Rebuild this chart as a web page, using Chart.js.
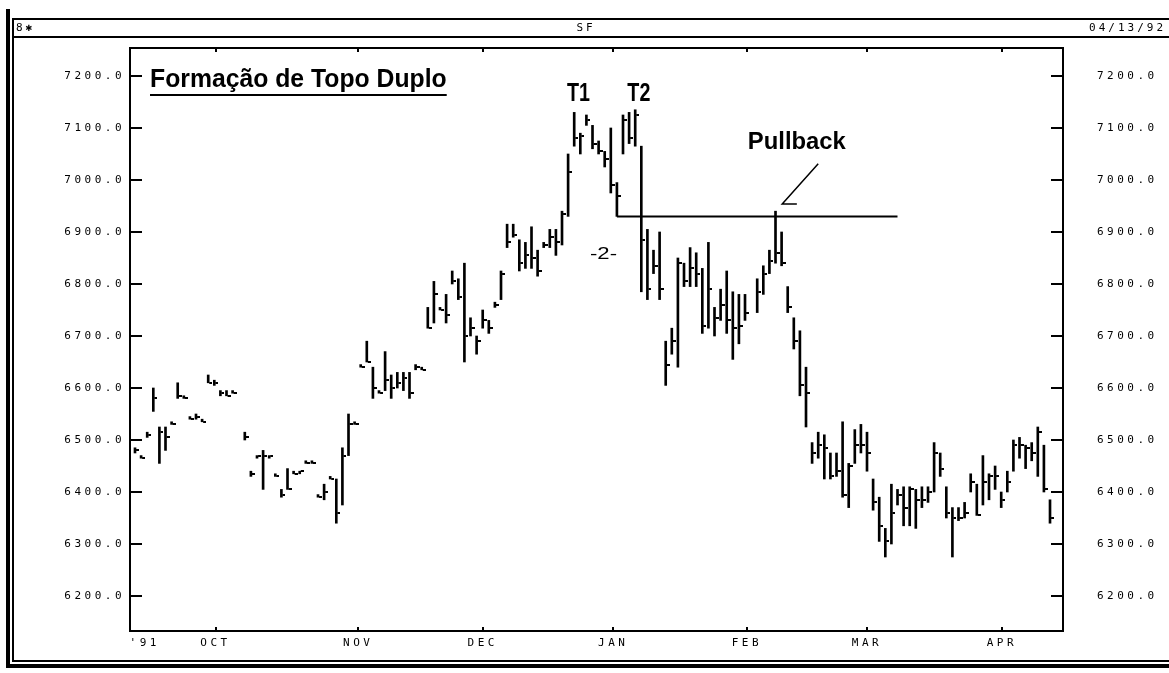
<!DOCTYPE html>
<html>
<head>
<meta charset="utf-8">
<script src="https://cdn.jsdelivr.net/npm/chart.js@4.4.0/dist/chart.umd.min.js"></script>
<style>
  html, body { margin: 0; padding: 0; background: #fff; }
  canvas { display: block; }
</style>
</head>
<body>
<canvas id="chartSF" width="1169" height="673"></canvas>
<script>
// trading-day slot of every bar (slots 17 and 101 have no bar)
const days = [
  0, 1, 2, 3, 4, 5, 6, 7, 8, 9, 10, 11, 12, 13, 14, 15, 16,
  18, 19, 20, 21, 22, 23, 24, 25, 26, 27, 28, 29, 30, 31, 32, 33, 34, 35, 36, 37, 38, 39, 40,
  41, 42, 43, 44, 45, 46, 47, 48, 49, 50, 51, 52, 53, 54, 55, 56, 57, 58, 59, 60,
  61, 62, 63, 64, 65, 66, 67, 68, 69, 70, 71, 72, 73, 74, 75, 76, 77, 78, 79, 80,
  81, 82, 83, 84, 85, 86, 87, 88, 89, 90, 91, 92, 93, 94, 95, 96, 97, 98, 99, 100,
  102, 103, 104, 105, 106, 107, 108, 109, 110, 111, 112, 113, 114, 115, 116, 117, 118, 119, 120,
  121, 122, 123, 124, 125, 126, 127, 128, 129, 130, 131, 132, 133, 134, 135, 136, 137, 138, 139, 140,
  141, 142, 143, 144, 145, 146, 147, 148, 149, 150
];
const highs = [
  6485, 6470, 6515, 6600, 6525, 6525, 6535, 6610, 6585, 6545, 6550, 6540, 6625, 6615, 6595, 6595, 6595,
  6515, 6440, 6470, 6480, 6470, 6435, 6405, 6445, 6440, 6440, 6460, 6460, 6395, 6415, 6430, 6425, 6485, 6550, 6535, 6645, 6690, 6640, 6595,
  6670, 6625, 6630, 6630, 6630, 6645, 6640, 6755, 6805, 6755, 6780, 6825, 6810, 6840, 6735, 6700, 6750, 6730, 6765, 6825,
  6915, 6915, 6885, 6880, 6910, 6865, 6880, 6905, 6905, 6940, 7050, 7130, 7090, 7125, 7105, 7075, 7055, 7100, 6995, 7125,
  7130, 7135, 7065, 6905, 6865, 6900, 6690, 6715, 6850, 6840, 6870, 6860, 6830, 6880, 6755, 6790, 6825, 6785, 6780, 6780,
  6810, 6835, 6865, 6940, 6900, 6795, 6735, 6710, 6640, 6495, 6515, 6510, 6475, 6475, 6535, 6455, 6520, 6530, 6515,
  6425, 6390, 6330, 6415, 6405, 6410, 6410, 6405, 6410, 6410, 6495, 6475, 6410, 6370, 6370, 6380, 6435, 6415, 6470, 6435,
  6450, 6400, 6440, 6500, 6505, 6490, 6495, 6525, 6490, 6385
];
const lows = [
  6475, 6465, 6505, 6555, 6455, 6480, 6530, 6580, 6580, 6540, 6540, 6535, 6610, 6605, 6585, 6585, 6590,
  6500, 6430, 6465, 6405, 6465, 6430, 6390, 6405, 6435, 6435, 6455, 6455, 6390, 6385, 6425, 6340, 6375, 6470, 6530, 6640, 6650, 6580, 6590,
  6595, 6580, 6600, 6595, 6580, 6635, 6635, 6715, 6725, 6750, 6725, 6800, 6770, 6650, 6700, 6665, 6715, 6705, 6755, 6770,
  6870, 6890, 6825, 6830, 6830, 6815, 6870, 6870, 6855, 6875, 6930, 7065, 7050, 7105, 7060, 7050, 7025, 6975, 6930, 7050,
  7070, 7065, 6785, 6770, 6820, 6770, 6605, 6665, 6640, 6795, 6795, 6795, 6705, 6715, 6700, 6730, 6705, 6655, 6685, 6730,
  6745, 6780, 6820, 6840, 6835, 6745, 6675, 6585, 6525, 6455, 6465, 6425, 6425, 6430, 6390, 6370, 6455, 6475, 6440,
  6365, 6305, 6275, 6300, 6375, 6335, 6335, 6330, 6370, 6380, 6400, 6430, 6350, 6275, 6345, 6350, 6400, 6355, 6375, 6385,
  6405, 6370, 6400, 6440, 6465, 6445, 6460, 6430, 6400, 6340
];
const closes = [
  6480, 6465, 6510, 6580, 6515, 6505, 6530, 6585, 6580, 6540, 6545, 6535, 6610, 6610, 6590, 6585, 6590,
  6505, 6435, 6470, 6470, 6470, 6430, 6395, 6405, 6435, 6440, 6455, 6455, 6390, 6400, 6425, 6360, 6470, 6530, 6530, 6640, 6650, 6600, 6590,
  6615, 6600, 6610, 6620, 6590, 6640, 6635, 6715, 6780, 6750, 6740, 6805, 6775, 6700, 6715, 6690, 6730, 6715, 6760, 6820,
  6880, 6895, 6840, 6855, 6850, 6825, 6875, 6890, 6880, 6935, 7015, 7080, 7085, 7115, 7070, 7055, 7040, 6990, 6970, 7115,
  7080, 7125, 6885, 6790, 6835, 6790, 6645, 6690, 6840, 6805, 6830, 6820, 6720, 6790, 6735, 6760, 6730, 6715, 6720, 6745,
  6785, 6820, 6845, 6860, 6840, 6755, 6690, 6605, 6590, 6475, 6490, 6485, 6430, 6440, 6395, 6450, 6490, 6490, 6475,
  6380, 6335, 6305, 6360, 6395, 6370, 6405, 6385, 6385, 6400, 6475, 6445, 6360, 6350, 6350, 6360, 6420, 6355, 6420, 6430,
  6430, 6385, 6420, 6490, 6490, 6485, 6475, 6515, 6405, 6350
];

const priceTicks = [6200, 6300, 6400, 6500, 6600, 6700, 6800, 6900, 7000, 7100, 7200];
const monthLabels = ["'91", "OCT", "NOV", "DEC", "JAN", "FEB", "MAR", "APR"];
const monthDays = [1.6, 13.2, 36.6, 57.0, 78.4, 100.3, 120.0, 142.1];

// neckline of the double top and the pullback pointer
const neckDays = [79, 125];
const neckPrice = [6930, 6930];
const pointerDays = [108.5, 106.1, 112.0];
const pointerPrice = [6954, 6954, 7031];

const closeMark = document.createElement("canvas");
closeMark.width = 8;
closeMark.height = 2;
closeMark.getContext("2d").fillRect(5, 0, 3, 2);

const tickFont = { family: "DejaVu Sans Mono", size: 11 };

function drawFitted(ctx, text, cx, baseline, font, width) {
  ctx.save();
  ctx.letterSpacing = "0px";
  ctx.font = font;
  const w = ctx.measureText(text).width;
  ctx.translate(cx, baseline);
  ctx.scale(width / w, 1);
  ctx.textAlign = "center";
  ctx.textBaseline = "alphabetic";
  ctx.fillStyle = "#000";
  ctx.fillText(text, 0, 0);
  ctx.restore();
}

const moldura = {
  id: "moldura",
  beforeDraw(chart) {
    chart.ctx.letterSpacing = "3.5px";
  },
  afterDraw(chart) {
    const ctx = chart.ctx;
    const a = chart.chartArea;
    const xs = chart.scales.x;
    const ys = chart.scales.y;
    ctx.save();
    ctx.fillStyle = "#000";

    // page frame and header strip
    ctx.fillRect(6, 9, 4, 659);
    ctx.fillRect(12, 18, 2, 644);
    ctx.fillRect(12, 18, 1157, 2);
    ctx.fillRect(12, 36, 1157, 2);
    ctx.fillRect(12, 660, 1157, 2);
    ctx.fillRect(6, 664, 1163, 4);

    ctx.font = "11px 'DejaVu Sans Mono'";
    ctx.letterSpacing = "3px";
    ctx.textBaseline = "middle";
    ctx.textAlign = "left";
    ctx.fillText("8✱", 16, 28);
    ctx.textAlign = "center";
    ctx.fillText("SF", 586, 28);
    ctx.textAlign = "right";
    ctx.fillText("04/13/92", 1166, 28);

    // plot box
    ctx.lineWidth = 2;
    ctx.strokeStyle = "#000";
    ctx.strokeRect(a.left, a.top, a.right - a.left, a.bottom - a.top);

    priceTicks.forEach(function (v) {
      const py = Math.round(ys.getPixelForValue(v));
      ctx.fillRect(a.left, py - 1, 12, 2);
      ctx.fillRect(a.right - 12, py - 1, 12, 2);
    });
    monthDays.forEach(function (d, i) {
      if (i === 0) return;
      const px = Math.round(xs.getPixelForValue(d));
      ctx.fillRect(px - 1, a.bottom - 4, 2, 4);
      ctx.fillRect(px - 1, a.top, 2, 4);
    });

    // annotations
    const tLeft = xs.getPixelForValue(2.46);
    const tRight = xs.getPixelForValue(51.1);
    drawFitted(ctx, "Formação de Topo Duplo", (tLeft + tRight) / 2, ys.getPixelForValue(7178),
      "bold 26px 'Liberation Sans'", tRight - tLeft);
    ctx.fillRect(tLeft, Math.round(ys.getPixelForValue(7164)) - 1, tRight - tLeft, 2);

    drawFitted(ctx, "T1", xs.getPixelForValue(72.7), ys.getPixelForValue(7152), "bold 25px 'Liberation Sans'", 23);
    drawFitted(ctx, "T2", xs.getPixelForValue(82.6), ys.getPixelForValue(7152), "bold 25px 'Liberation Sans'", 23);
    drawFitted(ctx, "Pullback", xs.getPixelForValue(108.5), ys.getPixelForValue(7060), "bold 23px 'Liberation Sans'", 98);
    drawFitted(ctx, "-2-", xs.getPixelForValue(76.8), ys.getPixelForValue(6848), "17px 'Liberation Sans'", 27);
    ctx.restore();
  }
};

const ctx = document.getElementById("chartSF").getContext("2d");
const chartSF = new Chart(ctx, {
  type: "bar",
  data: {
    datasets: [
      {
        label: "Máx/Mín",
        data: days.map(function (d, i) { return { x: d, y: [lows[i], highs[i]] }; }),
        backgroundColor: "#000",
        borderWidth: 0,
        barThickness: 2,
        yAxisID: "y"
      },
      {
        type: "line",
        label: "Fechamento",
        data: days.map(function (d, i) { return { x: d, y: closes[i] }; }),
        showLine: false,
        pointStyle: closeMark,
        pointRadius: 3,
        yAxisID: "y"
      },
      {
        type: "line",
        label: "Pescoço",
        data: neckDays.map(function (d, i) { return { x: d, y: neckPrice[i] }; }),
        borderColor: "#000",
        borderWidth: 2,
        pointRadius: 0,
        yAxisID: "y"
      },
      {
        type: "line",
        label: "Seta",
        data: pointerDays.map(function (d, i) { return { x: d, y: pointerPrice[i] }; }),
        borderColor: "#000",
        borderWidth: 1.5,
        pointRadius: 0,
        tension: 0,
        yAxisID: "y"
      }
    ]
  },
  options: {
    responsive: false,
    animation: false,
    devicePixelRatio: 1,
    layout: { padding: { top: 48, left: 0, right: 0, bottom: 0 } },
    plugins: { legend: { display: false }, tooltip: { enabled: false } },
    scales: {
      x: {
        type: "linear",
        position: "bottom",
        min: -0.82,
        max: 152.13,
        offset: false,
        grid: { display: false, drawTicks: false },
        border: { display: false },
        afterBuildTicks: function (scale) {
          scale.ticks = monthDays.map(function (d) { return { value: d }; });
        },
        afterFit: function (scale) { scale.height = 42; },
        ticks: {
          autoSkip: false,
          maxRotation: 0,
          minRotation: 0,
          padding: 6,
          color: "#000",
          font: tickFont,
          callback: function (value, index) { return monthLabels[index]; }
        }
      },
      y: {
        type: "linear",
        position: "left",
        min: 6132.7,
        max: 7253.8,
        grid: { display: false, drawTicks: false },
        border: { display: false },
        afterBuildTicks: function (scale) {
          scale.ticks = priceTicks.map(function (v) { return { value: v }; });
        },
        afterFit: function (scale) { scale.width = 130; },
        ticks: {
          padding: 5,
          color: "#000",
          font: tickFont,
          callback: function (value) { return value.toFixed(1); }
        }
      },
      y2: {
        type: "linear",
        position: "right",
        min: 6132.7,
        max: 7253.8,
        grid: { display: false, drawTicks: false },
        border: { display: false },
        afterBuildTicks: function (scale) {
          scale.ticks = priceTicks.map(function (v) { return { value: v }; });
        },
        afterFit: function (scale) { scale.width = 106; },
        ticks: {
          padding: 34,
          color: "#000",
          font: tickFont,
          callback: function (value) { return value.toFixed(1); }
        }
      }
    }
  },
  plugins: [moldura]
});
</script>
</body>
</html>
